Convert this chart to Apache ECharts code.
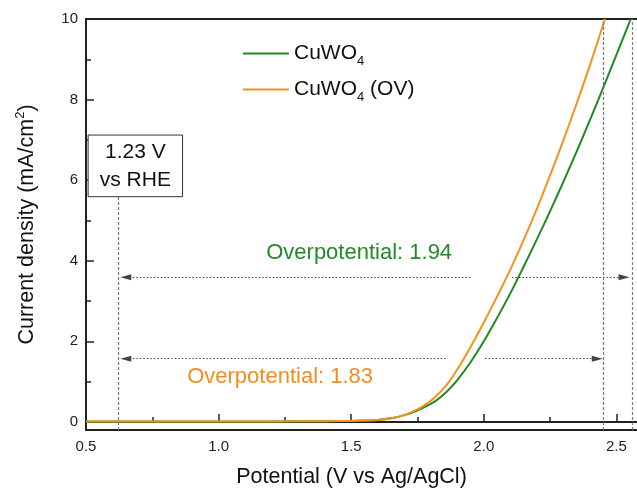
<!DOCTYPE html>
<html>
<head>
<meta charset="utf-8">
<script src="https://cdn.jsdelivr.net/npm/echarts@6/dist/echarts.min.js"></script>
<style>html,body{margin:0;padding:0;background:#fff}#c{width:637px;height:491px}</style>
</head>
<body>
<div id="c"></div>
<script>
// Data
const potentialCu = [0.5,0.8,1.0,1.2,1.4,1.5,1.55,1.6,1.65,1.7,1.74,1.78,1.82,1.86,1.9,1.95,2.0,2.05,2.1,2.15,2.2,2.25,2.3,2.35,2.4,2.45,2.5,2.554];
const currentCu   = [0.01,0.01,0.01,0.012,0.018,0.025,0.035,0.05,0.09,0.17,0.26,0.38,0.53,0.75,1.04,1.48,2.00,2.58,3.19,3.85,4.53,5.23,5.96,6.71,7.49,8.29,9.11,10.0];
const potentialOV = [0.5,0.8,1.0,1.2,1.4,1.5,1.55,1.6,1.65,1.7,1.74,1.78,1.82,1.86,1.9,1.95,2.0,2.05,2.1,2.15,2.2,2.25,2.3,2.35,2.4,2.457];
const currentOV   = [0.01,0.01,0.01,0.012,0.018,0.025,0.035,0.05,0.09,0.17,0.28,0.43,0.64,0.92,1.30,1.86,2.47,3.11,3.78,4.51,5.29,6.12,6.99,7.90,8.85,10.0];
const seriesNames = ['CuWO4', 'CuWO4 (OV)'];
const xTicks = [0.5, 1.0, 1.5, 2.0, 2.5];
const yTicks = [0, 2, 4, 6, 8, 10];
// annotation values
const rheRef = 0.62;          // 1.23 V vs RHE on Ag/AgCl scale
const overCu = 1.94, overOV = 1.83;
const arrowYCu = 3.59, arrowYOV = 1.57;

const GREEN = '#1f8a22', ORANGE = '#f5921e';
const TXT_GREEN = '#25892a', TXT_ORANGE = '#f28d26';
const FONT = 'Liberation Sans, Arial, sans-serif';

const pairs = (xs, ys) => xs.map((x, i) => [x, ys[i]]);

const chart = echarts.init(document.getElementById('c'), null, {renderer: 'canvas'});
const dashV = {color: '#7a7a7a', width: 1.2, type: [3, 2]};
const dotH = {color: '#444', width: 1, type: [1.5, 2]};
const tri = 'triangle';

const option = {
  animation: false,
  backgroundColor: '#fff',
  textStyle: {fontFamily: FONT},
  grid: {left: 86, top: 19, width: 663, bottom: 61, outerBoundsMode: 'none', containLabel: false,
    show: true, borderColor: '#222', borderWidth: 2, backgroundColor: 'transparent'},
  legend: {
    orient: 'vertical', left: 243, top: 43, padding: 0, itemWidth: 46, itemHeight: 2, itemGap: 11,
    icon: 'rect',
    data: seriesNames,
    formatter: n => n.replace('4', '{sub|4}'),
    textStyle: {fontSize: 21, color: '#111', fontFamily: FONT,
      rich: {sub: {fontSize: 13, padding: [16, 0, 0, 0], color: '#111', fontFamily: FONT}}}
  },
  xAxis: {
    type: 'value', min: 0.5, max: 3.0, interval: 0.5,
    axisLine: {lineStyle: {color: '#222', width: 2}},
    axisTick: {inside: true, length: 8, lineStyle: {color: '#222', width: 1.5}},
    minorTick: {show: true, splitNumber: 2, length: 5, lineStyle: {color: '#222', width: 1.5}},
    splitLine: {show: false},
    axisLabel: {fontSize: 15, color: '#222', margin: 9, fontFamily: FONT,
      formatter: v => xTicks.some(t => Math.abs(t - v) < 1e-9) ? v.toFixed(1) : ''},
    name: 'Potential (V vs Ag/AgCl)', nameLocation: 'middle', nameGap: 36,
    nameTextStyle: {fontSize: 21.5, color: '#111', padding: [0, 132, 0, 0], fontFamily: FONT}
  },
  yAxis: {
    type: 'value', min: -0.2, max: 10, splitNumber: 5, minInterval: 2, maxInterval: 2,
    axisLine: {lineStyle: {color: '#222', width: 2}},
    axisTick: {inside: true, length: 8, lineStyle: {color: '#222', width: 1.5}},
    minorTick: {show: true, splitNumber: 2, length: 5, lineStyle: {color: '#222', width: 1.5}},
    splitLine: {show: false},
    axisLabel: {fontSize: 15, color: '#222', margin: 8, fontFamily: FONT,
      formatter: v => yTicks.some(t => Math.abs(t - v) < 1e-9) ? String(v) : ''},
    name: 'Current density (mA/cm{sup|2})', nameLocation: 'middle', nameGap: 45, nameRotate: 90,
    nameTextStyle: {fontSize: 21.5, color: '#111', fontFamily: FONT,
      rich: {sup: {fontSize: 13, padding: [0, 0, 14, 0], color: '#111', fontFamily: FONT}}}
  },
  series: [
    {
      name: seriesNames[0], type: 'line', data: pairs(potentialCu, currentCu),
      smooth: 0.35, symbol: 'none', showSymbol: false, z: 3,
      lineStyle: {color: GREEN, width: 2}, itemStyle: {color: GREEN},
      markArea: {
        silent: true,
        itemStyle: {color: '#fff', borderColor: '#333', borderWidth: 1},
        label: {show: true, position: 'inside', formatter: '1.23 V\nvs RHE', fontSize: 21, lineHeight: 28, color: '#111', align: 'center', fontFamily: FONT},
        data: [[{coord: [0.508, 7.12]}, {coord: [0.864, 5.59]}]]
      },
      markLine: {
        silent: true, animation: false, symbol: 'none', label: {show: false},
        data: [
          [{coord: [rheRef, -0.2], lineStyle: dashV}, {coord: [rheRef, 5.59]}],
          [{coord: [rheRef + overOV, -0.2], lineStyle: dashV}, {coord: [rheRef + overOV, 10]}],
          [{coord: [rheRef + overCu, -0.2], lineStyle: dashV}, {coord: [rheRef + overCu, 10]}],
          [{coord: [0.65, arrowYCu], symbol: tri, symbolSize: [6, 11], lineStyle: dotH}, {coord: [1.949, arrowYCu], symbol: 'none'}],
          [{coord: [2.106, arrowYCu], symbol: 'none', lineStyle: dotH}, {coord: [2.529, arrowYCu], symbol: tri, symbolSize: [6, 11]}],
          [{coord: [0.65, arrowYOV], symbol: tri, symbolSize: [6, 11], lineStyle: dotH}, {coord: [1.861, arrowYOV], symbol: 'none'}],
          [{coord: [2.005, arrowYOV], symbol: 'none', lineStyle: dotH}, {coord: [2.428, arrowYOV], symbol: tri, symbolSize: [6, 11]}]
        ]
      },
      markPoint: {
        silent: true, symbol: 'circle', symbolSize: 1, itemStyle: {color: 'rgba(0,0,0,0)'},
        data: [
          {coord: [1.53, 4.19], label: {show: true, position: 'inside', formatter: 'Overpotential: ' + overCu.toFixed(2), fontSize: 22, color: TXT_GREEN, fontFamily: FONT}},
          {coord: [1.232, 1.12], label: {show: true, position: 'inside', formatter: 'Overpotential: ' + overOV.toFixed(2), fontSize: 22, color: TXT_ORANGE, fontFamily: FONT}}
        ]
      }
    },
    {
      name: seriesNames[1], type: 'line', data: pairs(potentialOV, currentOV),
      smooth: 0.35, symbol: 'none', showSymbol: false, z: 4,
      lineStyle: {color: ORANGE, width: 2}, itemStyle: {color: ORANGE}
    }
  ]
};
chart.setOption(option);
</script>
</body>
</html>
